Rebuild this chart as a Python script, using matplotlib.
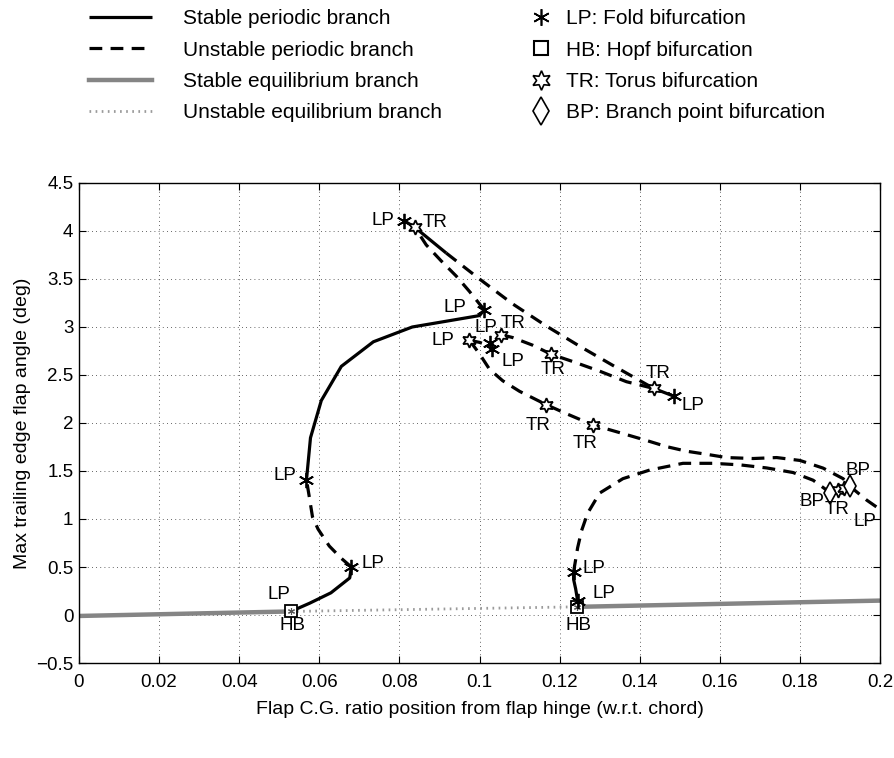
import matplotlib
matplotlib.use("Agg")
import matplotlib.pyplot as plt
from matplotlib.lines import Line2D
from matplotlib.ticker import FuncFormatter, MultipleLocator

plt.rcParams['font.family'] = ['Liberation Sans', 'DejaVu Sans']

# ---------------- data ----------------
# equilibrium branch
eq_stable_left_x = [0.0, 0.0529]
eq_stable_left_y = [-0.01, 0.037]
eq_unstable_x = [0.0529, 0.1243]
eq_unstable_y = [0.037, 0.085]
eq_stable_right_x = [0.1243, 0.2]
eq_stable_right_y = [0.085, 0.15]

# left periodic family
p1_stable_a_x = [0.0529, 0.0576, 0.0629, 0.0676, 0.0680]
p1_stable_a_y = [0.037, 0.123, 0.231, 0.386, 0.5]
p1_unstable_a_x = [0.0680, 0.0655, 0.0625, 0.0597, 0.0583, 0.0575, 0.0568]
p1_unstable_a_y = [0.5, 0.59, 0.718, 0.894, 1.022, 1.231, 1.407]
p1_stable_b_x = [0.0568, 0.0578, 0.0605, 0.0655, 0.0735, 0.0832, 0.1000, 0.1012]
p1_stable_b_y = [1.407, 1.846, 2.234, 2.59, 2.846, 3.0, 3.119, 3.18]
p1_unstable_b_x = [0.1012, 0.1000, 0.0975, 0.0942, 0.0904, 0.0867, 0.0838]
p1_unstable_b_y = [3.18, 3.24, 3.37, 3.53, 3.69, 3.855, 4.04]
p1_stable_c_x = [0.0812, 0.0838, 0.0917]
p1_stable_c_y = [4.106, 4.04, 3.77]
p1_unstable_c_x = [0.0917, 0.1000, 0.1083, 0.1167, 0.1250, 0.1333, 0.1435]
p1_unstable_c_y = [3.77, 3.50, 3.24, 3.01, 2.80, 2.60, 2.36]
p1_unstable_d_x = [0.1054, 0.1083, 0.1133, 0.1179, 0.1233, 0.1300, 0.1367, 0.1435]
p1_unstable_d_y = [2.92, 2.89, 2.81, 2.716, 2.64, 2.54, 2.43, 2.36]
p1_stable_d_x = [0.1435, 0.1485]
p1_stable_d_y = [2.36, 2.28]
p1_unstable_e_x = [0.0975, 0.1000, 0.1028]
p1_unstable_e_y = [2.862, 2.84, 2.80]
p1_unstable_f_x = [0.0975, 0.1000, 0.1025, 0.1058, 0.1100, 0.1167, 0.1217, 0.1283,
                   0.1358, 0.1417, 0.1467, 0.1517, 0.1567, 0.1617, 0.1683, 0.1742,
                   0.1800, 0.1858, 0.1908, 0.1925, 0.1967, 0.2000]
p1_unstable_f_y = [2.862, 2.72, 2.56, 2.44, 2.33, 2.19, 2.097, 1.98,
                   1.89, 1.818, 1.754, 1.706, 1.674, 1.64, 1.63, 1.64,
                   1.61, 1.53, 1.42, 1.34, 1.196, 1.10]

# right periodic family
p2_stable_a_x = [0.1243, 0.1245, 0.1240, 0.1235, 0.1235]
p2_stable_a_y = [0.085, 0.15, 0.274, 0.37, 0.45]
p2_unstable_a_x = [0.1235, 0.1245, 0.1255, 0.1270, 0.1300, 0.1358, 0.1425, 0.1508,
                   0.1583, 0.1650, 0.1717, 0.1783, 0.1833, 0.1875]
p2_unstable_a_y = [0.45, 0.70, 0.88, 1.06, 1.27, 1.42, 1.51, 1.58,
                   1.58, 1.564, 1.532, 1.484, 1.404, 1.276]
p2_stable_b_x = [0.1875, 0.1925]
p2_stable_b_y = [1.276, 1.34]

# bifurcation points
lp_x = [0.0812, 0.1012, 0.1025, 0.1032, 0.1485, 0.0568, 0.0680, 0.1235, 0.1245]
lp_y = [4.106, 3.18, 2.83, 2.77, 2.28, 1.407, 0.5, 0.45, 0.15]
tr_x = [0.0838, 0.0975, 0.1054, 0.1179, 0.1435, 0.1167, 0.1283, 0.1895, 0.1910]
tr_y = [4.04, 2.862, 2.92, 2.716, 2.36, 2.19, 1.98, 1.30, 1.32]
hb_x = [0.0529, 0.1243]
hb_y = [0.037, 0.085]
bp_x = [0.1875, 0.1925]
bp_y = [1.276, 1.34]

# point labels
lbl_text = ['LP', 'TR', 'LP', 'LP', 'TR', 'LP', 'LP', 'TR', 'TR', 'LP', 'TR', 'TR',
            'BP', 'BP', 'TR', 'LP', 'LP', 'LP', 'LP', 'HB', 'LP', 'LP', 'HB']
lbl_x = [0.0758, 0.0888, 0.0938, 0.1017, 0.1083, 0.0908, 0.1083, 0.1183, 0.1146, 0.1533,
         0.1446, 0.1263, 0.1946, 0.1829, 0.1892, 0.1963, 0.0514, 0.0735, 0.0498, 0.0532,
         0.1285, 0.1310, 0.1246]
lbl_y = [4.11, 4.09, 3.20, 2.99, 3.04, 2.86, 2.64, 2.56, 1.97, 2.18,
         2.52, 1.79, 1.50, 1.18, 1.10, 0.97, 1.45, 0.54, 0.216, -0.11,
         0.484, 0.226, -0.11]

x_ticks = [0, 0.02, 0.04, 0.06, 0.08, 0.1, 0.12, 0.14, 0.16, 0.18, 0.2]

# ---------------- style ----------------
W, H = 894, 758
fig = plt.figure(figsize=(W / 100, H / 100), dpi=100)
ax = fig.add_axes([79 / W, 1 - 663 / H, 801 / W, 480 / H])

LW = 2.3
DASH = (0, (4.0, 2.6))
GRAY = '#858585'
LGRAY = '#9a9a9a'

st = dict(color='black', lw=LW, solid_capstyle='butt')
un = dict(color='black', lw=LW, linestyle=DASH, dash_capstyle='butt')

ax.plot(eq_stable_left_x, eq_stable_left_y, color=GRAY, lw=3.2, solid_capstyle='butt')
ax.plot(eq_stable_right_x, eq_stable_right_y, color=GRAY, lw=3.2, solid_capstyle='butt')
ax.plot(eq_unstable_x, eq_unstable_y, color=LGRAY, lw=2.0, linestyle=(0, (0.6, 1.6)))

for xs, ys in [(p1_stable_a_x, p1_stable_a_y), (p1_stable_b_x, p1_stable_b_y),
               (p1_stable_c_x, p1_stable_c_y), (p1_stable_d_x, p1_stable_d_y),
               (p2_stable_a_x, p2_stable_a_y), (p2_stable_b_x, p2_stable_b_y)]:
    ax.plot(xs, ys, **st)
for xs, ys in [(p1_unstable_a_x, p1_unstable_a_y), (p1_unstable_b_x, p1_unstable_b_y),
               (p1_unstable_c_x, p1_unstable_c_y), (p1_unstable_d_x, p1_unstable_d_y),
               (p1_unstable_e_x, p1_unstable_e_y), (p1_unstable_f_x, p1_unstable_f_y),
               (p2_unstable_a_x, p2_unstable_a_y)]:
    ax.plot(xs, ys, **un)

LP_M = (6, 2, 0)
TR_M = (6, 1, 0)
ax.plot(hb_x, hb_y, linestyle='none', marker='s', ms=8, mfc='white', mec='black', mew=1.3, zorder=5)
ax.plot(hb_x, hb_y, linestyle='none', marker=LP_M, ms=5, mec='#555555', mew=0.8, zorder=6)
ax.plot(lp_x, lp_y, linestyle='none', marker=LP_M, ms=11, mec='black', mew=1.3, zorder=6)
ax.plot(tr_x, tr_y, linestyle='none', marker=TR_M, ms=10.5, mfc='white', mec='black', mew=1.3, zorder=7)
ax.plot(bp_x, bp_y, linestyle='none', marker='d', ms=11, mfc='white', mec='black', mew=1.2, zorder=7)

for t, x, y in zip(lbl_text, lbl_x, lbl_y):
    ax.text(x, y, t, fontsize=13.5, ha='center', va='center', zorder=8)

ax.set_xlim(0, 0.2)
ax.set_ylim(-0.5, 4.5)
ax.set_xticks(x_ticks)
ax.yaxis.set_major_locator(MultipleLocator(0.5))
fmt = FuncFormatter(lambda v, p: ('%g' % round(v, 4)).replace('-', '\u2212'))
ax.xaxis.set_major_formatter(fmt)
ax.yaxis.set_major_formatter(fmt)
ax.tick_params(direction='in', top=True, right=True, length=5, width=0.8,
               labelsize=13.5)
ax.tick_params(axis='x', pad=8)
ax.tick_params(axis='y', pad=4)
ax.grid(True, color='#333333', linestyle=(0, (1, 4)), lw=0.6)
for s in ax.spines.values():
    s.set_linewidth(1.0)
ax.set_xlabel('Flap C.G. ratio position from flap hinge (w.r.t. chord)', fontsize=14, labelpad=7)
ax.set_ylabel('Max trailing edge flap angle (deg)', fontsize=14, labelpad=4)

# ---------------- legends ----------------
h1 = [Line2D([], [], **st),
      Line2D([], [], **un),
      Line2D([], [], color=GRAY, lw=3.2),
      Line2D([], [], color=LGRAY, lw=2.0, linestyle=(0, (0.6, 1.6)))]
l1 = ['Stable periodic branch', 'Unstable periodic branch',
      'Stable equilibrium branch', 'Unstable equilibrium branch']
leg1 = fig.legend(h1, l1, loc='upper left', bbox_to_anchor=(89 / W, 1 - 9 / H),
                  frameon=False, fontsize=15, handlelength=3.0, handletextpad=1.5,
                  borderpad=0, borderaxespad=0, labelspacing=0.6)

h2 = [Line2D([], [], linestyle='none', marker=LP_M, ms=12, mec='black', mew=1.2),
      Line2D([], [], linestyle='none', marker='s', ms=10, mfc='white', mec='black', mew=1.5),
      Line2D([], [], linestyle='none', marker=TR_M, ms=14, mfc='white', mec='black', mew=1.2),
      Line2D([], [], linestyle='none', marker='d', ms=14, mfc='white', mec='black', mew=1.2)]
l2 = ['LP: Fold bifurcation', 'HB: Hopf bifurcation', 'TR: Torus bifurcation',
      'BP: Branch point bifurcation']
leg2 = fig.legend(h2, l2, loc='upper left', bbox_to_anchor=(531 / W, 1 - 9 / H),
                  frameon=False, fontsize=15, handlelength=1.0, handletextpad=0.7,
                  borderpad=0, borderaxespad=0, labelspacing=0.6)

fig.savefig('out.png', dpi=100)
